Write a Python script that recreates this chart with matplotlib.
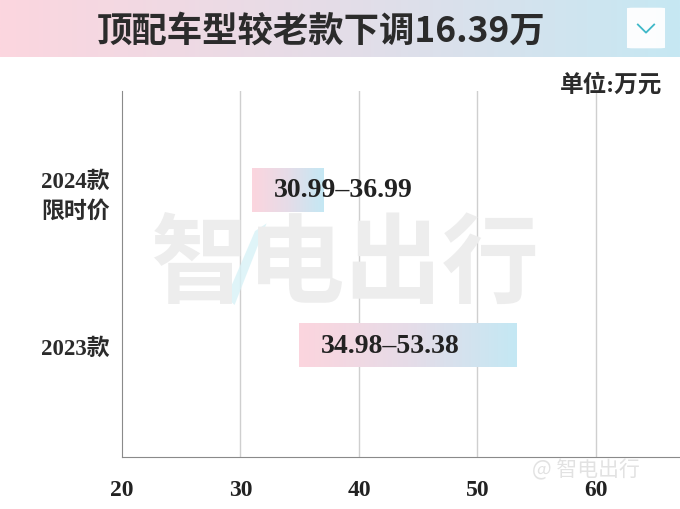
import matplotlib.pyplot as plt
import numpy as np
from matplotlib.colors import LinearSegmentedColormap
from matplotlib.patches import FancyBboxPatch, Polygon

categories = ["2024款\n限时价", "2023款"]
low = [30.99, 34.98]
high = [36.99, 53.38]
labels = ["30.99–36.99", "34.98–53.38"]
ypos = [0.73, 0.305]
xticks = [20, 30, 40, 50, 60]
title = "顶配车型较老款下调16.39万"
unit = "单位:万元"

cjk = "Noto Sans CJK SC"
serif = ["Liberation Serif", cjk]
plt.rcParams["font.family"] = [cjk, "DejaVu Sans"]

grad = LinearSegmentedColormap.from_list("pb", ["#fcd6df", "#e4dde8", "#c6e8f3"])
bar_grad = LinearSegmentedColormap.from_list("bb", ["#fcd5de", "#e6dce8", "#c4e8f4"])
ramp = np.linspace(0, 1, 256).reshape(1, -1)

fig = plt.figure(figsize=(6.8, 5.1), dpi=100)

# title banner
bax = fig.add_axes([0, 1 - 58 / 510, 1, 58 / 510])
bax.imshow(ramp, cmap=grad, aspect="auto", extent=[0, 1, 0, 1])
bax.set_xlim(0, 1)
bax.set_ylim(0, 1)
bax.axis("off")
bax.text(0.472, 0.47, title, ha="center", va="center", fontsize=25.5,
         fontweight="bold", color="#2b2b2b", family=[cjk, "DejaVu Sans"])
bax.add_patch(FancyBboxPatch((0.922, 0.15), 0.056, 0.7,
                             boxstyle="round,pad=0,rounding_size=0.01",
                             fc="white", ec="none", alpha=0.95))
bax.plot([0.938, 0.95, 0.962], [0.56, 0.42, 0.56], color="#3fb8c8", lw=1.3)

ax = fig.add_axes([122 / 680, 52 / 510, 1 - 122 / 680, 366 / 510])
ax.set_xlim(20, 67.1)
ax.set_ylim(0, 1)

for x in xticks[1:]:
    ax.axvline(x, color="#cfcfcf", lw=1, zorder=0)

bh = 0.12
for y, lo, hi, lab in zip(ypos, low, high, labels):
    ax.imshow(ramp, cmap=bar_grad, aspect="auto",
              extent=[lo, hi, y - bh / 2, y + bh / 2], zorder=2)
    ax.text(lo + 7.65, y, lab, ha="center", va="center", fontsize=20,
            fontweight="bold", color="#222222", family=serif, zorder=3)

ax.set_yticks(ypos)
ax.set_yticklabels(categories, family=serif, fontsize=16.5, fontweight="bold",
                   color="#2b2b2b", linespacing=1.45)
ax.set_xticks(xticks)
ax.set_xticklabels([str(t) for t in xticks], family=serif, fontsize=17,
                   fontweight="bold", color="#222222")
ax.tick_params(length=0, axis="x", pad=16)
ax.tick_params(length=0, axis="y", pad=9)
ax.spines["top"].set_visible(False)
ax.spines["right"].set_visible(False)
ax.spines["left"].set_color("#8a8a8a")
ax.spines["bottom"].set_color("#8a8a8a")

fig.text(662 / 680, 1 - 85 / 510, unit, ha="right", va="center", fontsize=17,
         fontweight="bold", color="#2b2b2b", family=serif)

# watermarks
fig.text(345 / 680, 1 - 267 / 510, "智电出行", ha="center", va="center",
         fontsize=70, fontweight="bold", color="#ededed", zorder=1)
fig.add_artist(Polygon([[0.375, 0.545], [0.392, 0.56], [0.345, 0.40], [0.333, 0.415]],
                       closed=True, transform=fig.transFigure, fc="#d8f2f7",
                       ec="none", alpha=0.8, zorder=1))
fig.text(586 / 680, 1 - 470 / 510, "@ 智电出行", ha="center", va="center",
         fontsize=15, color="#e2e2e2", zorder=5)

fig.savefig("out.png", dpi=100)
